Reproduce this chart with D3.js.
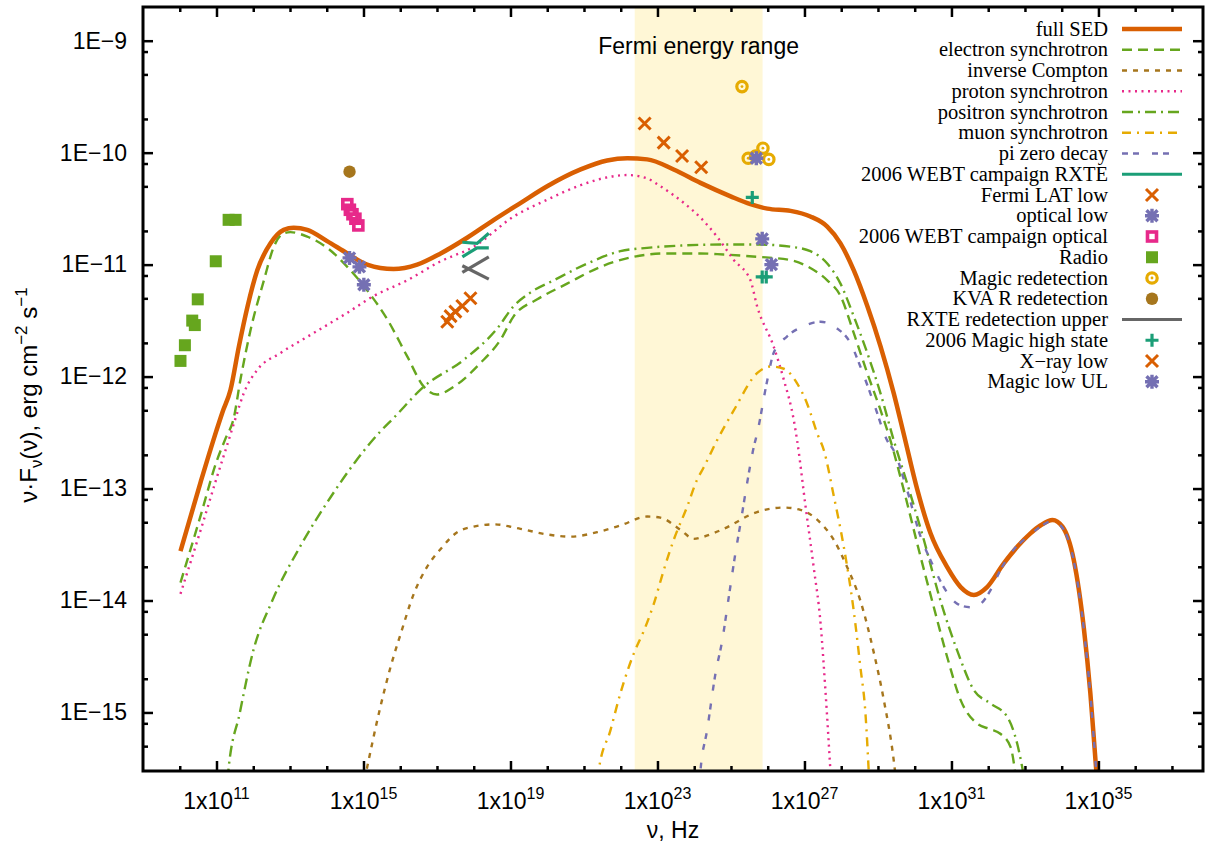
<!DOCTYPE html>
<html>
<head>
<meta charset="utf-8">
<script src="https://cdn.jsdelivr.net/npm/d3@7"></script>
<style>
 body { margin: 0; background: #fff; }
 svg text { font-family: "Liberation Sans", Arial, Helvetica, sans-serif; fill: #000; }
 .legend text { font-family: "Liberation Serif", "Times New Roman", serif; font-size: 20.5px; }
</style>
</head>
<body>
<script>
'use strict'
// SED of a blazar: model components and observations, log-log plot (gnuplot look) drawn with d3

// every pair below is [log10 of nu in Hz, log10 of nu*F_nu in erg cm^-2 s^-1]

// model curves
let fullSED = [[10.02,-13.56],[10.57,-12.94],[11.0,-12.48],[11.16,-12.32],[11.38,-12.12],[11.61,-11.73],[11.84,-11.38],[12.11,-11.05],[12.47,-10.81],[12.83,-10.69],[13.10,-10.67],[13.47,-10.69],[14.01,-10.79],[14.56,-10.90],[15.10,-11.00],[15.82,-11.04],[16.46,-11.00],[17.10,-10.90],[17.82,-10.76],[18.55,-10.60],[19.27,-10.45],[20.00,-10.30],[20.91,-10.15],[21.63,-10.07],[22.18,-10.05],[22.72,-10.06],[23.44,-10.15],[24.17,-10.27],[24.99,-10.39],[25.53,-10.46],[25.99,-10.50],[26.62,-10.52],[27.16,-10.57],[27.62,-10.66],[27.98,-10.81],[28.34,-11.05],[28.71,-11.37],[29.07,-11.73],[29.43,-12.15],[29.70,-12.51],[30.07,-13.01],[30.43,-13.40],[30.88,-13.70],[31.25,-13.88],[31.61,-13.95],[31.97,-13.88],[32.42,-13.67],[33.15,-13.40],[33.42,-13.33],[33.75,-13.28],[34.02,-13.34],[34.33,-13.64],[34.60,-14.24],[34.78,-14.83],[34.92,-15.43],[34.96,-15.60]];
let electronSync = [[10.02,-13.84],[10.57,-13.24],[11.0,-12.76],[11.25,-12.55],[11.47,-12.37],[11.65,-12.03],[11.93,-11.58],[12.29,-11.14],[12.56,-10.84],[12.83,-10.72],[13.01,-10.71],[13.47,-10.75],[14.01,-10.85],[14.56,-11.02],[15.10,-11.23],[15.65,-11.49],[16.19,-11.82],[16.64,-12.09],[17.00,-12.16],[17.46,-12.09],[18.18,-11.88],[18.73,-11.67],[19.09,-11.46],[19.73,-11.31],[20.54,-11.17],[21.45,-11.02],[22.36,-10.93],[23.26,-10.90],[24.17,-10.90],[24.80,-10.91],[25.71,-10.93],[26.62,-10.96],[27.16,-11.03],[27.62,-11.14],[27.98,-11.28],[28.34,-11.61],[28.71,-11.97],[29.07,-12.30],[29.34,-12.57],[29.70,-13.01],[30.16,-13.61],[30.52,-14.06],[30.88,-14.50],[31.25,-14.89],[31.70,-15.10],[32.06,-15.15],[32.33,-15.19],[32.61,-15.31],[32.76,-15.60]];
let inverseCompton = [[15.03,-15.60],[15.46,-14.95],[15.74,-14.59],[16.01,-14.30],[16.37,-13.94],[16.73,-13.70],[17.10,-13.54],[17.55,-13.39],[18.00,-13.34],[18.55,-13.32],[19.27,-13.36],[20.00,-13.41],[20.63,-13.43],[21.36,-13.39],[21.99,-13.33],[22.72,-13.25],[23.08,-13.26],[23.63,-13.37],[23.99,-13.45],[24.26,-13.43],[24.80,-13.36],[25.71,-13.21],[26.44,-13.17],[26.89,-13.19],[27.35,-13.28],[27.80,-13.46],[28.16,-13.70],[28.52,-14.00],[28.89,-14.47],[29.16,-14.89],[29.43,-15.43],[29.49,-15.60]];
let protonSync = [[10.02,-13.94],[10.57,-13.37],[11.0,-12.91],[11.33,-12.57],[11.52,-12.37],[11.74,-12.15],[12.11,-11.94],[12.74,-11.79],[13.65,-11.61],[14.56,-11.43],[15.28,-11.28],[16.19,-11.14],[17.10,-10.97],[18.00,-10.84],[19.09,-10.57],[20.00,-10.42],[20.91,-10.29],[21.81,-10.21],[22.18,-10.20],[22.72,-10.23],[23.08,-10.30],[23.72,-10.45],[24.17,-10.58],[24.62,-10.75],[25.08,-10.96],[25.53,-11.14],[25.71,-11.37],[26.16,-11.73],[26.44,-12.03],[26.71,-12.39],[26.80,-12.57],[27.03,-13.16],[27.25,-13.70],[27.44,-14.21],[27.57,-14.80],[27.72,-15.60]];
let positronSync = [[11.30,-15.60],[11.32,-15.53],[11.63,-15.01],[12.00,-14.45],[12.52,-14.00],[13.29,-13.51],[14.10,-13.08],[14.78,-12.76],[15.46,-12.49],[15.82,-12.37],[16.64,-12.09],[17.73,-11.85],[18.64,-11.57],[19.09,-11.37],[19.54,-11.25],[20.18,-11.14],[21.09,-10.99],[21.99,-10.88],[22.72,-10.85],[23.62,-10.83],[24.80,-10.82],[25.71,-10.82],[26.62,-10.84],[27.16,-10.88],[27.62,-10.99],[27.98,-11.17],[28.34,-11.46],[28.71,-11.79],[29.07,-12.15],[29.43,-12.57],[29.79,-12.95],[30.25,-13.46],[30.70,-14.00],[31.16,-14.45],[31.61,-14.80],[32.06,-14.92],[32.52,-15.04],[32.79,-15.28],[32.99,-15.60]];
let muonSync = [[21.38,-15.60],[21.40,-15.52],[21.72,-15.16],[21.99,-14.83],[22.36,-14.47],[22.63,-14.27],[22.90,-14.03],[23.17,-13.73],[23.44,-13.46],[23.81,-13.16],[24.08,-12.92],[24.26,-12.81],[24.62,-12.57],[25.08,-12.30],[25.71,-11.97],[26.08,-11.91],[26.44,-11.93],[26.80,-12.06],[27.07,-12.24],[27.35,-12.51],[27.53,-12.66],[27.80,-13.07],[28.07,-13.52],[28.34,-14.09],[28.52,-14.59],[28.66,-15.01],[28.76,-15.60]];
let piZeroDecay = [[24.15,-15.60],[24.17,-15.52],[24.35,-15.16],[24.58,-14.65],[24.76,-14.36],[24.94,-13.97],[25.12,-13.58],[25.26,-13.31],[25.44,-12.95],[25.62,-12.63],[25.71,-12.51],[25.99,-12.03],[26.16,-11.79],[26.53,-11.64],[26.98,-11.55],[27.44,-11.51],[27.89,-11.57],[28.25,-11.70],[28.52,-11.91],[28.89,-12.24],[29.25,-12.57],[29.43,-12.66],[29.79,-13.01],[30.16,-13.43],[30.43,-13.64],[30.79,-13.88],[31.16,-14.03],[31.52,-14.06],[31.79,-14.03],[32.06,-13.91],[32.33,-13.73],[32.61,-13.58],[33.15,-13.41],[33.42,-13.34],[33.75,-13.29],[34.02,-13.35],[34.33,-13.65],[34.60,-14.25],[34.78,-14.84],[34.92,-15.44],[34.96,-15.60]];

// observations
let radio = [[10.02,-11.86],[10.14,-11.72],[10.34,-11.50],[10.41,-11.54],[10.49,-11.31],[10.98,-10.97],[11.33,-10.60],[11.52,-10.60]];
let kvaR = [[14.62,-10.17]];
let webtOptical = [[14.56,-10.46],[14.63,-10.51],[14.70,-10.55],[14.78,-10.59],[14.86,-10.65]];
let opticalLow = [[14.62,-10.94],[14.89,-11.02],[15.01,-11.18]];
let xrayLow = [[17.28,-11.51],[17.37,-11.46],[17.50,-11.42],[17.69,-11.37],[17.91,-11.30]];
let fermiLow = [[22.65,-9.74],[23.17,-9.91],[23.67,-10.03],[24.19,-10.13]];
let magicRedetection = [[25.30,-9.41],[25.47,-10.05],[25.67,-10.03],[25.87,-9.96],[26.03,-10.06]];
let magicLowUL = [[25.69,-10.05],[25.85,-10.77],[26.10,-11.00]];
let magicHigh = [[25.58,-10.40],[25.85,-11.11],[25.96,-11.11]];
// bow ties: upper and lower envelope of each spectrum
let webtRXTE = [[[17.69,-10.80],[18.09,-10.81],[18.41,-10.72]], [[17.69,-10.93],[18.09,-10.85],[18.41,-10.85]]];
let rxteUpper = [[[17.69,-11.07],[18.41,-10.93]], [[17.69,-11.01],[18.41,-11.13]]];

// Fermi LAT band, Hz
let fermiRange = [2.4e22, 7.25e25];

// axes
let xMajorExp = [11, 15, 19, 23, 27, 31, 35];
let yMajor = [1e-9, 1e-10, 1e-11, 1e-12, 1e-13, 1e-14, 1e-15];
let yLabels = ["1E\u22129", "1E\u221210", "1E\u221211", "1E\u221212", "1E\u221213", "1E\u221214", "1E\u221215"];

// legend order
let legendNames = ["full SED", "electron synchrotron", "inverse Compton", "proton synchrotron",
 "positron synchrotron", "muon synchrotron", "pi zero decay", "2006 WEBT campaign RXTE",
 "Fermi LAT low", "optical low", "2006 WEBT campaign optical", "Radio", "Magic redetection",
 "KVA R redetection", "RXTE redetection upper", "2006 Magic high state", "X\u2212ray low", "Magic low UL"];

// ---------------------------------------------------------------

const width = 1206, height = 844;
const margin = { left: 143, right: 3, top: 7, bottom: 73 };
const plotLeft = margin.left, plotRight = width - margin.right;
const plotTop = margin.top, plotBottom = height - margin.bottom;

let svg = d3.select("body").append("svg")
 .attr("width", width)
 .attr("height", height);

let x = d3.scaleLog().domain([1e9, 7e37]).range([plotLeft, plotRight]);
let y = d3.scaleLog().domain([3e-16, 2e-9]).range([plotBottom, plotTop]);

let px = d => x(10 ** d[0]);
let py = d => y(10 ** d[1]);

svg.append("clipPath").attr("id", "plotClip")
 .append("rect")
 .attr("x", plotLeft).attr("y", plotTop)
 .attr("width", plotRight - plotLeft).attr("height", plotBottom - plotTop);

// Fermi energy range band
svg.append("rect")
 .attr("x", x(fermiRange[0]))
 .attr("y", plotTop)
 .attr("width", x(fermiRange[1]) - x(fermiRange[0]))
 .attr("height", plotBottom - plotTop)
 .attr("fill", "#fff7d6");

svg.append("text")
 .attr("x", (x(fermiRange[0]) + x(fermiRange[1])) / 2)
 .attr("y", 54)
 .attr("text-anchor", "middle")
 .style("font-size", "23px")
 .text("Fermi energy range");

// styles per series
let styles = {
 "full SED": { kind: "line", color: "#d95f02", width: 4.5, dash: null, data: fullSED },
 "electron synchrotron": { kind: "line", color: "#66a61e", width: 2.4, dash: "10,6", data: electronSync },
 "inverse Compton": { kind: "line", color: "#a6761d", width: 2.4, dash: "5,6", data: inverseCompton },
 "proton synchrotron": { kind: "line", color: "#e7298a", width: 2.4, dash: "2,4.5", data: protonSync },
 "positron synchrotron": { kind: "line", color: "#66a61e", width: 2.4, dash: "11,5,2,5", data: positronSync },
 "muon synchrotron": { kind: "line", color: "#e6ab02", width: 2.4, dash: "9,6,2,6", data: muonSync },
 "pi zero decay": { kind: "line", color: "#7570b3", width: 2.4, dash: "6,5,6,13", data: piZeroDecay },
 "2006 WEBT campaign RXTE": { kind: "bowtie", color: "#1b9e77", data: webtRXTE },
 "Fermi LAT low": { kind: "point", shape: "cross", color: "#d95f02", data: fermiLow },
 "optical low": { kind: "point", shape: "star", color: "#7570b3", data: opticalLow },
 "2006 WEBT campaign optical": { kind: "point", shape: "openSquare", color: "#e7298a", data: webtOptical },
 "Radio": { kind: "point", shape: "square", color: "#66a61e", data: radio },
 "Magic redetection": { kind: "point", shape: "ring", color: "#e6ab02", data: magicRedetection },
 "KVA R redetection": { kind: "point", shape: "dot", color: "#a6761d", data: kvaR },
 "RXTE redetection upper": { kind: "bowtie", color: "#666666", data: rxteUpper },
 "2006 Magic high state": { kind: "point", shape: "plus", color: "#1b9e77", data: magicHigh },
 "X\u2212ray low": { kind: "point", shape: "cross", color: "#d95f02", data: xrayLow },
 "Magic low UL": { kind: "point", shape: "star", color: "#7570b3", data: magicLowUL }
};

// draw a gnuplot-like point symbol
function drawMarker(g, shape, color, cx, cy) {
 let m = g.append("g").attr("transform", "translate(" + cx + "," + cy + ")");
 if (shape === "cross") {
  m.append("path").attr("d", "M-6,-6L6,6M-6,6L6,-6")
   .attr("stroke", color).attr("stroke-width", 3).attr("fill", "none");
 } else if (shape === "plus") {
  m.append("path").attr("d", "M-6.5,0L6.5,0M0,-6.5L0,6.5")
   .attr("stroke", color).attr("stroke-width", 3.2).attr("fill", "none");
 } else if (shape === "star") {
  m.append("path").attr("d", "M-5.5,-5.5L5.5,5.5M-5.5,5.5L5.5,-5.5M-7,0L7,0M0,-7L0,7")
   .attr("stroke", color).attr("stroke-width", 3.4).attr("fill", "none");
 } else if (shape === "square") {
  m.append("rect").attr("x", -6).attr("y", -6).attr("width", 12).attr("height", 12)
   .attr("fill", color);
 } else if (shape === "openSquare") {
  m.append("rect").attr("x", -4.5).attr("y", -4.5).attr("width", 9).attr("height", 9)
   .attr("fill", "none").attr("stroke", color).attr("stroke-width", 3.6);
 } else if (shape === "ring") {
  m.append("circle").attr("r", 5.2)
   .attr("fill", "none").attr("stroke", color).attr("stroke-width", 3.2);
  m.append("circle").attr("r", 1.4).attr("fill", color);
 } else if (shape === "dot") {
  m.append("circle").attr("r", 6.2).attr("fill", color);
 }
}

let plot = svg.append("g").attr("clip-path", "url(#plotClip)");

let line = d3.line().x(px).y(py).curve(d3.curveMonotoneX);

// model curves first, then the observations
legendNames.forEach(name => {
 let s = styles[name];
 if (s.kind !== "line") return;
 plot.append("path")
  .datum(s.data)
  .attr("d", line)
  .attr("fill", "none")
  .attr("stroke", s.color)
  .attr("stroke-width", s.width)
  .attr("stroke-dasharray", s.dash)
  .attr("stroke-linejoin", "round");
});

legendNames.forEach(name => {
 let s = styles[name];
 if (s.kind === "bowtie") {
  s.data.forEach(seg => {
   plot.append("path")
    .datum(seg)
    .attr("d", d3.line().x(px).y(py))
    .attr("stroke", s.color)
    .attr("stroke-width", 3.2)
    .attr("fill", "none");
  });
 } else if (s.kind === "point") {
  s.data.forEach(d => drawMarker(plot, s.shape, s.color, px(d), py(d)));
 }
});

// axes: ticks point inwards and are mirrored on top and right
let majorX = xMajorExp.map(e => 10 ** e);
let minorX = d3.range(10, 38).map(e => 10 ** e).filter(v => !majorX.includes(v));
let minorY = [];
for (let k = -16; k <= -9; k++) {
 [2, 5, 8].forEach(m => {
  let v = m * 10 ** k;
  if (v > 3e-16 && v < 2e-9) minorY.push(v);
 });
}

let axisStyle = g => {
 g.select(".domain").remove();
 g.selectAll(".tick line").attr("stroke", "#000").attr("stroke-width", 2.5);
};

svg.append("g").attr("transform", "translate(0," + plotBottom + ")")
 .call(d3.axisBottom(x).tickValues(majorX).tickSize(-10).tickFormat(""))
 .call(axisStyle);
svg.append("g").attr("transform", "translate(0," + plotBottom + ")")
 .call(d3.axisBottom(x).tickValues(minorX).tickSize(-5).tickFormat(""))
 .call(axisStyle);
svg.append("g").attr("transform", "translate(0," + plotTop + ")")
 .call(d3.axisTop(x).tickValues(majorX).tickSize(-10).tickFormat(""))
 .call(axisStyle);
svg.append("g").attr("transform", "translate(0," + plotTop + ")")
 .call(d3.axisTop(x).tickValues(minorX).tickSize(-5).tickFormat(""))
 .call(axisStyle);

svg.append("g").attr("transform", "translate(" + plotLeft + ",0)")
 .call(d3.axisLeft(y).tickValues(yMajor).tickSize(-10).tickPadding(16)
  .tickFormat((d, i) => yLabels[i]))
 .call(axisStyle)
 .call(g => g.selectAll("text").style("font-size", "23px").attr("fill", "#000"));
svg.append("g").attr("transform", "translate(" + plotLeft + ",0)")
 .call(d3.axisLeft(y).tickValues(minorY).tickSize(-5).tickFormat(""))
 .call(axisStyle);
svg.append("g").attr("transform", "translate(" + plotRight + ",0)")
 .call(d3.axisRight(y).tickValues(yMajor).tickSize(-10).tickFormat(""))
 .call(axisStyle);
svg.append("g").attr("transform", "translate(" + plotRight + ",0)")
 .call(d3.axisRight(y).tickValues(minorY).tickSize(-5).tickFormat(""))
 .call(axisStyle);

// x tick labels "1x10^n"
let xLab = svg.append("g");
xMajorExp.forEach(e => {
 let t = xLab.append("text")
  .attr("x", x(10 ** e))
  .attr("y", 809)
  .attr("text-anchor", "middle")
  .style("font-size", "23px");
 t.append("tspan").text("1x10");
 t.append("tspan").attr("dy", -10).style("font-size", "16px").text(e);
});

// frame
svg.append("rect")
 .attr("x", plotLeft).attr("y", plotTop)
 .attr("width", plotRight - plotLeft).attr("height", plotBottom - plotTop)
 .attr("fill", "none")
 .attr("stroke", "#000")
 .attr("stroke-width", 3);

// axis titles
svg.append("text")
 .attr("x", (plotLeft + plotRight) / 2)
 .attr("y", 838)
 .attr("text-anchor", "middle")
 .style("font-size", "23px")
 .text("\u03bd, Hz");

let yTitle = svg.append("text")
 .attr("transform", "translate(37," + ((plotTop + plotBottom) / 2 + 6) + ") rotate(-90)")
 .attr("text-anchor", "middle")
 .style("font-size", "24px");
yTitle.append("tspan").text("\u03bd\u00b7F");
yTitle.append("tspan").attr("dy", 5).style("font-size", "17px").text("\u03bd");
yTitle.append("tspan").attr("dy", -5).text("(\u03bd), erg cm");
yTitle.append("tspan").attr("dy", -10).style("font-size", "17px").text("\u22122");
yTitle.append("tspan").attr("dy", 10).text(" s");
yTitle.append("tspan").attr("dy", -10).style("font-size", "17px").text("\u22121");

// legend
let legend = svg.append("g").attr("class", "legend");
legendNames.forEach((name, i) => {
 let s = styles[name];
 let cy = 29 + i * 20.75;
 legend.append("text")
  .attr("x", 1108)
  .attr("y", cy + 6.5)
  .attr("text-anchor", "end")
  .text(name);
 if (s.kind === "line" || s.kind === "bowtie") {
  legend.append("line")
   .attr("x1", 1122).attr("x2", 1182)
   .attr("y1", cy).attr("y2", cy)
   .attr("stroke", s.color)
   .attr("stroke-width", s.kind === "line" ? s.width : 3.2)
   .attr("stroke-dasharray", s.kind === "line" ? s.dash : null);
 } else {
  drawMarker(legend, s.shape, s.color, 1152, cy);
 }
});
</script>
</body>
</html>
